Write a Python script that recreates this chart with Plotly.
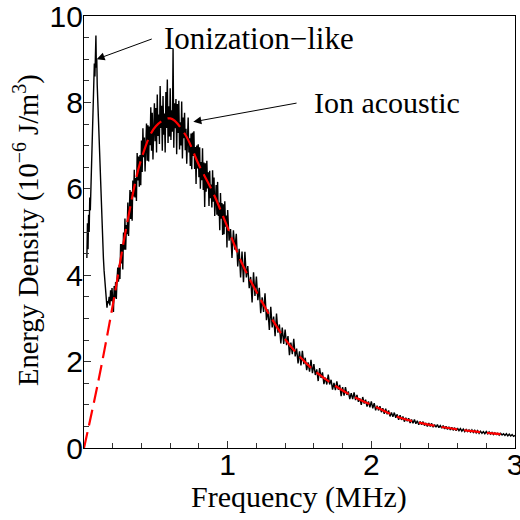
import numpy as np
import plotly.graph_objects as go

# Ionization-like peak region (MHz, 1e-6 J/m^3)
peak_freq = [0.020, 0.024, 0.028, 0.032, 0.036, 0.040, 0.044, 0.048, 0.052, 0.056,
             0.060, 0.064, 0.068, 0.072, 0.076, 0.080, 0.083, 0.086, 0.089, 0.092,
             0.096, 0.100, 0.105, 0.110, 0.115, 0.120, 0.125, 0.130, 0.135, 0.140,
             0.145, 0.150, 0.155, 0.160, 0.165]
peak_vals = [4.4, 5.2, 4.6, 5.4, 5.0, 5.8, 5.5, 6.1, 6.0, 6.9,
             7.4, 8.2, 8.6, 8.9, 8.6, 9.1, 9.55, 8.8, 9.0, 8.4,
             8.0, 7.6, 7.0, 6.5, 5.9, 5.5, 5.1, 4.7, 4.4, 4.1,
             3.85, 3.6, 3.45, 3.25, 3.4]

# Ion acoustic spectrum, 0.170 .. 0.995 MHz every 0.005 MHz
low_freq = np.round(np.arange(0.17, 0.9951, 0.005), 3)
low_vals = [
    3.35, 3.50, 3.30, 3.65, 3.40, 3.70,
    3.45, 3.15, 3.75, 3.48, 3.84, 3.45, 3.91, 4.18, 3.85, 4.24,
    3.91, 4.72, 4.27, 4.72, 4.13, 4.99, 4.59, 5.31, 4.59, 5.16,
    4.95, 5.68, 4.91, 5.59, 5.97, 5.30, 5.93, 5.26, 6.19, 5.82,
    6.44, 5.80, 6.25, 5.72, 6.83, 6.19, 6.75, 6.05, 6.78, 6.08,
    7.12, 6.39, 7.40, 6.73, 7.19, 6.40, 7.16, 7.51, 6.65, 7.47,
    6.63, 7.44, 7.01, 7.89, 6.88, 7.76, 6.68, 7.49, 7.98, 7.10,
    7.87, 6.84, 8.18, 7.22, 7.72, 7.04, 8.38, 7.41, 7.92, 6.88,
    8.15, 7.25, 7.74, 6.84, 8.24, 7.41, 8.53, 7.06, 7.91, 7.21,
    8.33, 7.13, 7.82, 7.32, 9.25, 6.95, 7.98, 7.40, 8.08, 6.80,
    7.96, 7.29, 8.04, 6.91, 7.54, 7.00, 8.02, 6.70, 7.65, 7.17,
    7.76, 6.89, 7.39, 6.58, 7.51, 7.65, 6.84, 7.17, 6.53, 7.28,
    6.45, 7.30, 6.76, 7.33, 6.46, 6.97, 6.11, 7.00, 6.47, 7.03,
    6.27, 6.96, 6.00, 6.62, 6.20, 6.94, 5.97, 6.61, 5.58, 6.59,
    5.93, 6.65, 6.01, 6.38, 5.60, 6.42, 5.78, 6.10, 5.57, 6.43,
    5.70, 6.26, 5.37, 5.93, 6.09, 5.40, 6.16, 5.37, 5.68, 5.04,
    5.90, 5.31, 5.67, 4.93, 5.64, 4.95, 5.71, 5.12, 5.38, 4.64,
]

# Ion acoustic spectrum, 1.00 .. 3.00 MHz every 0.01 MHz
high_freq = np.round(np.arange(1.00, 3.0001, 0.01), 2)
high_vals = [
    5.51, 4.80, 5.07, 4.40, 5.04, 4.59, 4.96, 4.20, 4.61, 3.95,
    4.55, 3.84, 4.54, 3.95, 4.21, 3.70, 3.96, 3.37, 4.07, 3.52,
    3.97, 3.42, 3.71, 3.12, 3.49, 3.15, 3.58, 2.96, 3.21, 2.73,
    3.27, 2.79, 3.04, 2.59, 3.11, 2.67, 2.86, 2.42, 2.79, 2.41,
    2.74, 2.38, 2.59, 2.15, 2.44, 2.17, 2.53, 2.12, 2.30, 1.96,
    2.24, 1.91, 2.25, 1.94, 2.09, 1.80, 1.98, 1.77, 2.04, 1.73,
    1.94, 1.69, 1.82, 1.55, 1.85, 1.62, 1.75, 1.48, 1.63, 1.47,
    1.70, 1.47, 1.58, 1.35, 1.51, 1.34, 1.54, 1.35, 1.46, 1.20,
    1.41, 1.21, 1.41, 1.23, 1.31, 1.13, 1.27, 1.13, 1.29, 1.11,
    1.23, 1.07, 1.15, 1.00, 1.18, 1.03, 1.12, 0.96, 1.08, 0.94,
    1.08, 0.92, 1.04, 0.87, 0.98, 0.87, 0.97, 0.83, 0.92, 0.79,
    0.91, 0.78, 0.87, 0.73, 0.82, 0.72, 0.82, 0.70, 0.78, 0.65,
    0.76, 0.65, 0.73, 0.61, 0.70, 0.62, 0.69, 0.58, 0.66, 0.57,
    0.66, 0.56, 0.63, 0.54, 0.61, 0.54, 0.61, 0.52, 0.58, 0.50,
    0.58, 0.50, 0.57, 0.48, 0.54, 0.48, 0.54, 0.47, 0.52, 0.46,
    0.52, 0.44, 0.50, 0.43, 0.49, 0.42, 0.48, 0.41, 0.47, 0.40,
    0.46, 0.40, 0.45, 0.39, 0.44, 0.38, 0.43, 0.38, 0.42, 0.37,
    0.42, 0.36, 0.41, 0.35, 0.40, 0.34, 0.39, 0.34, 0.38, 0.33,
    0.38, 0.33, 0.37, 0.32, 0.36, 0.31, 0.35, 0.31, 0.34, 0.30,
    0.34, 0.30, 0.33, 0.29, 0.33, 0.28, 0.32, 0.28, 0.31, 0.27, 0.29,
]

# Fitted ion acoustic curve (red dashed)
fit_freq = [0.0, 0.1, 0.2, 0.3, 0.4, 0.5, 0.6, 0.7, 0.8, 0.9, 1.0, 1.1, 1.2, 1.3,
            1.4, 1.5, 1.6, 1.7, 1.8, 1.9, 2.0, 2.1, 2.2, 2.3, 2.4, 2.5, 2.6, 2.7,
            2.8, 2.9]
fit_vals = [0.0, 1.55, 3.3, 5.2, 6.7, 7.45, 7.63, 7.28, 6.55, 5.9, 5.1, 4.27, 3.62,
            3.03, 2.52, 2.12, 1.8, 1.55, 1.33, 1.15, 1.0, 0.84, 0.7, 0.61, 0.54,
            0.48, 0.43, 0.39, 0.35, 0.32]

x_ticks = [0, 1, 2, 3]
x_ticktext = ["", "1", "2", "3"]
y_ticks = [0, 2, 4, 6, 8, 10]

freq_all = list(peak_freq) + list(low_freq) + list(high_freq)
vals_all = list(peak_vals) + list(low_vals) + list(high_vals)

fig = go.Figure()
fig.add_trace(go.Scatter(x=freq_all, y=vals_all, mode="lines",
                         line=dict(color="black", width=1.4), showlegend=False))
fig.add_trace(go.Scatter(x=fit_freq, y=fit_vals, mode="lines",
                         line=dict(color="#ff0000", width=2.2, dash="16px,7px", shape="spline"),
                         showlegend=False))

serif = "Liberation Serif, Times New Roman, serif"
sans = "Liberation Sans, Arial, sans-serif"

fig.add_annotation(x=0.088, y=9.0, ax=0.482, ay=9.48, xref="x", yref="y",
                   axref="x", ayref="y", text="", showarrow=True,
                   arrowhead=2, arrowsize=1.6, arrowwidth=1, arrowcolor="black")
fig.add_annotation(x=0.541, y=9.47, xref="x", yref="y", text="Ionization\u2212like",
                   showarrow=False, xanchor="left", yanchor="middle",
                   font=dict(family=serif, size=31, color="black"))
fig.add_annotation(x=0.761, y=7.55, ax=1.49, ay=7.99, xref="x", yref="y",
                   axref="x", ayref="y", text="", showarrow=True,
                   arrowhead=2, arrowsize=1.6, arrowwidth=1, arrowcolor="black")
fig.add_annotation(x=1.589, y=7.99, xref="x", yref="y", text="Ion acoustic",
                   showarrow=False, xanchor="left", yanchor="middle",
                   font=dict(family=serif, size=30, color="black"))

# axis titles
fig.add_annotation(x=0.499, y=-0.113, xref="paper", yref="paper",
                   text="Frequency (MHz)", showarrow=False,
                   xanchor="center", yanchor="middle",
                   font=dict(family=serif, size=30, color="black"))
fig.add_annotation(x=-0.132, y=0.505, xref="paper", yref="paper",
                   text="Energy Density (10<sup>\u22126</sup> J/m<sup>3</sup>)",
                   showarrow=False, textangle=-90,
                   xanchor="center", yanchor="middle",
                   font=dict(family=serif, size=28.5, color="black"))

fig.update_layout(
    width=520, height=520,
    margin=dict(l=84, r=5, t=16, b=72),
    paper_bgcolor="white", plot_bgcolor="white",
)
fig.update_xaxes(range=[0, 3], tickvals=x_ticks, ticktext=x_ticktext, automargin=False,
                 ticks="inside", ticklen=7, tickcolor="#333", tickwidth=1,
                 ticklabeloverflow="allow", ticklabelstandoff=-10,
                 minor=dict(dtick=0.2, ticks="inside", ticklen=5, tickcolor="#333"),
                 showline=True, linecolor="black", linewidth=1.2, mirror=True,
                 showgrid=False, zeroline=False,
                 tickfont=dict(family=sans, size=30, color="black"))
fig.update_yaxes(range=[0, 10], tickvals=y_ticks, automargin=False,
                 ticks="inside", ticklen=7, tickcolor="#333", tickwidth=1,
                 ticklabeloverflow="allow", ticklabelstandoff=-6,
                 minor=dict(dtick=0.5, ticks="inside", ticklen=5, tickcolor="#333"),
                 showline=True, linecolor="black", linewidth=1.2, mirror=True,
                 showgrid=False, zeroline=False,
                 tickfont=dict(family=sans, size=30, color="black"))

fig.write_html("out.html", config={"displayModeBar": False},
               post_script="document.body.style.margin='0px';")
